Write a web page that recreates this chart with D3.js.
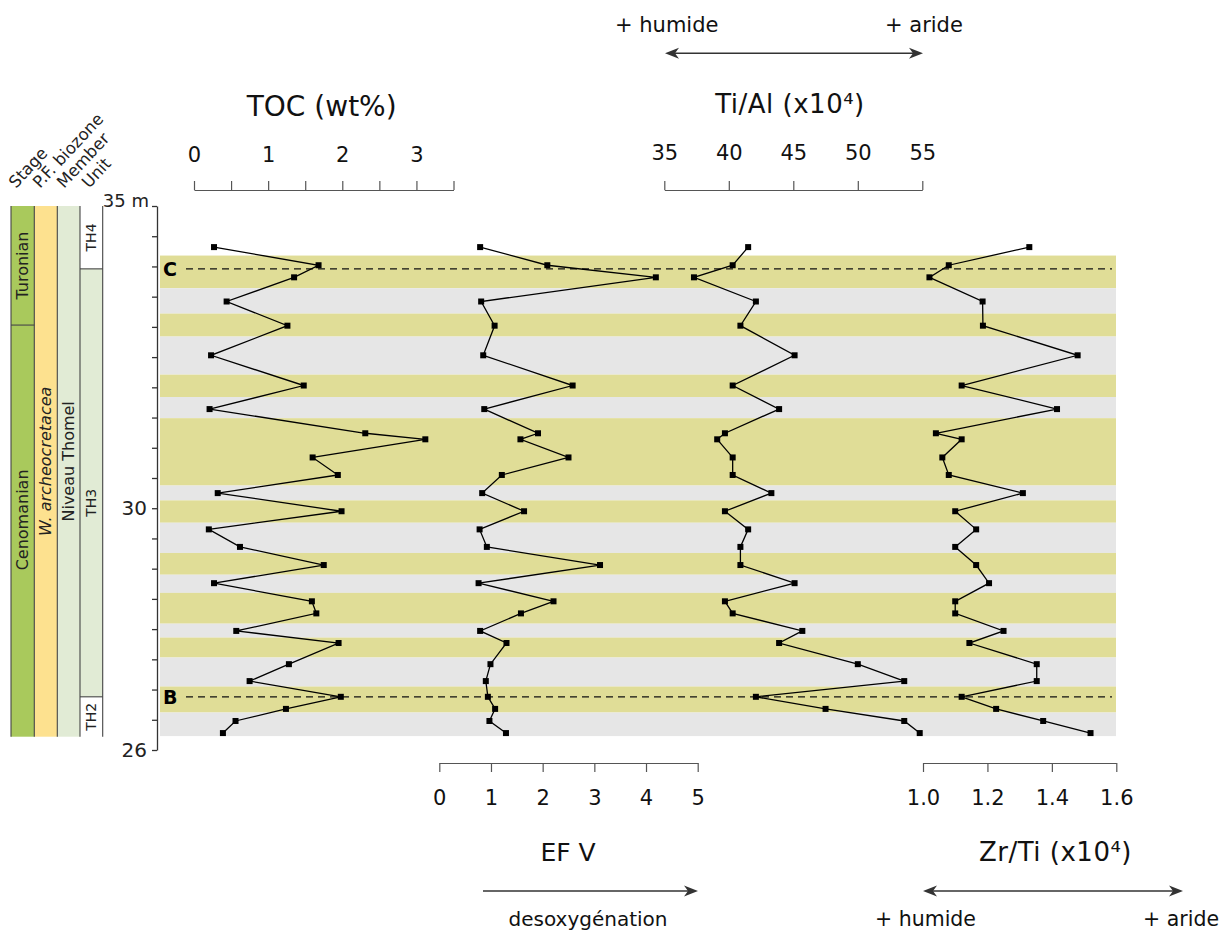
<!DOCTYPE html>
<html><head><meta charset="utf-8">
<script src="https://cdn.jsdelivr.net/npm/d3@7"></script>
<style>body{margin:0;background:#fff}svg{display:block}text{font-family:"DejaVu Sans",sans-serif}</style>
</head><body><svg id="c" width="1228" height="933"></svg>
<script>
// ---- data ----
const depths = [34.32, 34.02, 33.82, 33.42, 33.02, 32.53, 32.03, 31.64, 31.24, 31.14, 30.84, 30.55, 30.25, 29.95, 29.65, 29.36, 29.06, 28.76, 28.46, 28.26, 27.97, 27.77, 27.42, 27.14, 26.88, 26.68, 26.48, 26.28];
const toc  = [0.27, 1.68, 1.35, 0.44, 1.26, 0.23, 1.48, 0.21, 2.31, 3.12, 1.60, 1.94, 0.32, 1.99, 0.20, 0.62, 1.75, 0.27, 1.59, 1.65, 0.57, 1.95, 1.28, 0.75, 1.98, 1.24, 0.56, 0.39];
const efv  = [0.79, 2.09, 4.19, 0.81, 1.07, 0.85, 2.58, 0.87, 1.91, 1.57, 2.50, 1.21, 0.83, 1.64, 0.78, 0.92, 3.11, 0.76, 2.21, 1.58, 0.79, 1.30, 0.99, 0.90, 0.94, 1.08, 0.97, 1.29];
const tial = [41.5, 40.3, 37.3, 42.1, 40.9, 45.1, 40.3, 43.9, 39.7, 39.1, 40.3, 40.3, 43.3, 39.7, 41.5, 40.9, 40.9, 45.1, 39.7, 40.3, 45.7, 43.9, 50.0, 53.6, 42.1, 47.5, 53.6, 54.8];
const zrti = [1.33, 1.08, 1.02, 1.185, 1.186, 1.48, 1.12, 1.416, 1.04, 1.12, 1.06, 1.08, 1.31, 1.10, 1.165, 1.10, 1.165, 1.205, 1.10, 1.10, 1.25, 1.144, 1.353, 1.353, 1.12, 1.227, 1.373, 1.52];
const bandEdges = [34.18, 33.64, 33.22, 32.84, 32.21, 31.84, 31.49, 30.375, 30.13, 29.76, 29.26, 28.90, 28.60, 28.09, 27.86, 27.53, 27.05, 26.62, 26.23];
const horizonNames = ["C", "B"];
const horizonDepths = [33.96, 26.88];
const stageNames = ["Turonian", "Cenomanian"];
const stageBounds = [35, 33.03, 26.22];
const unitNames = ["TH4", "TH3", "TH2"];
const unitBounds = [35, 33.96, 26.88, 26.22];
const biozone = "W. archeocretacea";
const member = "Niveau Thomel";
const columnHeaders = ["Stage", "P.F. biozone", "Member", "Unit"];
const depthTicks = d3.range(26, 35.01, 0.5);
const depthLabels = {26: "26", 30: "30", 35: "35 m"};
const tocTicks = [0, 0.5, 1, 1.5, 2, 2.5, 3, 3.5];
const efvTicks = [0, 1, 2, 3, 4, 5];
const tialTicks = [35, 40, 45, 50, 55];
const zrtiTicks = [1.0, 1.2, 1.4, 1.6];

// ---- scales ----
const svg = d3.select("#c");
const y = d3.scaleLinear().domain([26, 35]).range([750, 206]);
const xToc = d3.scaleLinear().domain([0, 3.5]).range([194, 453.5]);
const xEfv = d3.scaleLinear().domain([0, 5]).range([439.3, 697.7]);
const xTial = d3.scaleLinear().domain([35, 55]).range([664.3, 922.3]);
const xZr = d3.scaleLinear().domain([1.0, 1.6]).range([923, 1116.3]);

const YEL = "#e0dd97", GRY = "#e6e6e6";
// bands
const bands = d3.pairs(bandEdges).map((p, i) => ({top: p[0], bot: p[1], c: i % 2 === 0 ? YEL : GRY}));
svg.append("g").selectAll("rect").data(bands).join("rect")
  .attr("x", 160).attr("width", 1116 - 160)
  .attr("y", d => y(d.top)).attr("height", d => y(d.bot) - y(d.top))
  .attr("fill", d => d.c);

// horizons
horizonDepths.forEach((d, i) => {
  svg.append("line").attr("x1", 186).attr("x2", 1112).attr("y1", y(d)).attr("y2", y(d))
    .attr("stroke", "#111").attr("stroke-width", 1.3).attr("stroke-dasharray", "7,5");
  svg.append("text").attr("x", 163).attr("y", y(d) + 7).text(horizonNames[i])
    .attr("font-size", 19).attr("font-weight", "bold").attr("fill", "#000");
});

// depth axis
const gD = svg.append("g").attr("transform", "translate(157,0)")
  .call(d3.axisLeft(y).tickValues(depthTicks).tickSize(5).tickPadding(5).tickSizeOuter(0)
    .tickFormat(d => depthLabels[d] || ""));
gD.select(".domain").attr("stroke", "#333").attr("stroke-width", 1.3);
gD.selectAll(".tick line").attr("stroke", "#333").attr("stroke-width", 1.3);
gD.selectAll("text").attr("font-size", 20).attr("font-family", "DejaVu Sans").attr("fill", "#222");
gD.selectAll(".tick").filter(d => d === 35).select("text").attr("dy", "0.05em").attr("x", -8).attr("font-size", 18);

// series
function series(vals, xs) {
  const pts = depths.map((d, i) => [xs(vals[i]), y(d)]);
  svg.append("path").attr("d", d3.line()(pts)).attr("fill", "none")
    .attr("stroke", "#000").attr("stroke-width", 1.3);
  svg.append("g").selectAll("rect").data(pts).join("rect")
    .attr("x", p => p[0] - 3).attr("y", p => p[1] - 3).attr("width", 6).attr("height", 6).attr("fill", "#000");
}
series(toc, xToc); series(efv, xEfv); series(tial, xTial); series(zrti, xZr);

function styleAxis(g, fs) {
  g.select(".domain").attr("stroke", "#555").attr("stroke-width", 1.2);
  g.selectAll(".tick line").attr("stroke", "#555").attr("stroke-width", 1.2);
  g.selectAll("text").attr("font-size", fs).attr("font-family", "DejaVu Sans").attr("fill", "#111");
}
// top axes
const gT = svg.append("g").attr("transform", "translate(0,190)")
  .call(d3.axisTop(xToc).tickValues(tocTicks).tickSize(9).tickPadding(19).tickSizeOuter(0)
    .tickFormat(d => Number.isInteger(d) ? d : ""));
styleAxis(gT, 21);
const gTi = svg.append("g").attr("transform", "translate(0,190)")
  .call(d3.axisTop(xTial).tickValues(tialTicks).tickSize(9).tickPadding(21).tickSizeOuter(0).tickFormat(d3.format("d")));
styleAxis(gTi, 21);
// bottom axes
const gE = svg.append("g").attr("transform", "translate(0,763)")
  .call(d3.axisBottom(xEfv).tickValues(efvTicks).tickSize(9).tickPadding(18).tickSizeOuter(0).tickFormat(d3.format("d")));
styleAxis(gE, 21);
const gZ = svg.append("g").attr("transform", "translate(0,763)")
  .call(d3.axisBottom(xZr).tickValues(zrtiTicks).tickSize(9).tickPadding(18).tickSizeOuter(0).tickFormat(d3.format(".1f")));
styleAxis(gZ, 21);

// titles
function txt(x, yy, s, fs, anchor, extra) {
  const t = svg.append("text").attr("x", x).attr("y", yy).text(s).attr("font-size", fs)
    .attr("text-anchor", anchor || "middle").attr("fill", "#111");
  if (extra) extra(t);
  return t;
}
txt(321.7, 116, "TOC (wt%)", 28);
txt(790, 113, "Ti/Al (x10⁴)", 26, "middle", t => t.attr("letter-spacing", 0.5));
txt(568, 861, "EF V", 25);
txt(1055.5, 861, "Zr/Ti (x10⁴)", 26, "middle", t => t.attr("letter-spacing", 0.5));
txt(615, 32, "+ humide", 21, "start");
txt(885, 32, "+ aride", 21, "start");
txt(588, 926, "desoxygénation", 20);
txt(875, 926, "+ humide", 20.5, "start");
txt(1143, 926, "+ aride", 20.5, "start");

// arrows
function arrow(x1, x2, yy, both) {
  svg.append("line").attr("x1", x1 + (both ? 6 : 0)).attr("x2", x2 - 6).attr("y1", yy).attr("y2", yy)
    .attr("stroke", "#333").attr("stroke-width", 1.5);
  const head = (xt, dir) => svg.append("path")
    .attr("d", `M${xt},${yy} L${xt - dir * 14},${yy - 5.5} L${xt - dir * 10},${yy} L${xt - dir * 14},${yy + 5.5} Z`)
    .attr("fill", "#333");
  head(x2, 1);
  if (both) head(x1, -1);
}
arrow(665, 923, 53.3, true);
arrow(483, 698, 891, false);
arrow(923, 1183, 891, true);

// stratigraphic columns
const cols = [11, 34.3, 57.3, 80, 102.7];
const colTop = stageBounds[0], colBot = stageBounds[stageBounds.length - 1];
const STG = "#a9c95c", BIO = "#fde18f", MEM = "#e1ebd5";
const colG = svg.append("g");
d3.pairs(stageBounds).forEach((p, i) => {
  colG.append("rect").attr("x", cols[0]).attr("width", cols[1] - cols[0])
    .attr("y", y(p[0])).attr("height", y(p[1]) - y(p[0])).attr("fill", STG);
});
colG.append("rect").attr("x", cols[1]).attr("width", cols[2] - cols[1])
  .attr("y", y(colTop)).attr("height", y(colBot) - y(colTop)).attr("fill", BIO);
colG.append("rect").attr("x", cols[2]).attr("width", cols[3] - cols[2])
  .attr("y", y(colTop)).attr("height", y(colBot) - y(colTop)).attr("fill", MEM);
d3.pairs(unitBounds).forEach((p, i) => {
  colG.append("rect").attr("x", cols[3]).attr("width", cols[4] - cols[3])
    .attr("y", y(p[0])).attr("height", y(p[1]) - y(p[0])).attr("fill", unitNames[i] === "TH3" ? MEM : "#fff");
});
cols.forEach(cx => colG.append("line").attr("x1", cx).attr("x2", cx).attr("y1", y(colTop)).attr("y2", y(colBot))
  .attr("stroke", "#444").attr("stroke-width", 1.1));
colG.append("line").attr("x1", cols[0]).attr("x2", cols[1]).attr("y1", y(stageBounds[1])).attr("y2", y(stageBounds[1]))
  .attr("stroke", "#444").attr("stroke-width", 1.1);
[unitBounds[1], unitBounds[2]].forEach(b => colG.append("line").attr("x1", cols[3]).attr("x2", cols[4])
  .attr("y1", y(b)).attr("y2", y(b)).attr("stroke", "#444").attr("stroke-width", 1.1));

function vtext(cx, cy, s, fs, italic) {
  svg.append("text").attr("transform", `translate(${cx},${cy}) rotate(-90)`)
    .attr("text-anchor", "middle").attr("dy", "0.35em").attr("font-size", fs)
    .attr("font-style", italic ? "italic" : "normal").attr("fill", "#222").text(s);
}
const stageOffsets = [0, -11];
d3.pairs(stageBounds).forEach((p, i) => vtext((cols[0] + cols[1]) / 2, (y(p[0]) + y(p[1])) / 2 + stageOffsets[i], stageNames[i], 16));
vtext((cols[1] + cols[2]) / 2, (y(colTop) + y(colBot)) / 2 - 10, biozone, 16, true);
vtext((cols[2] + cols[3]) / 2, (y(colTop) + y(colBot)) / 2 - 10, member, 16);
d3.pairs(unitBounds).forEach((p, i) => vtext((cols[3] + cols[4]) / 2, (y(p[0]) + y(p[1])) / 2 + (i === 1 ? 20 : 0), unitNames[i], 14));

// rotated column headers
const hdrX = [16, 40, 64, 89];
columnHeaders.forEach((h, i) => {
  svg.append("text").attr("transform", `translate(${hdrX[i]},189) rotate(-47)`)
    .attr("font-size", 16.5).attr("fill", "#222").text(h);
});
</script></body></html>
